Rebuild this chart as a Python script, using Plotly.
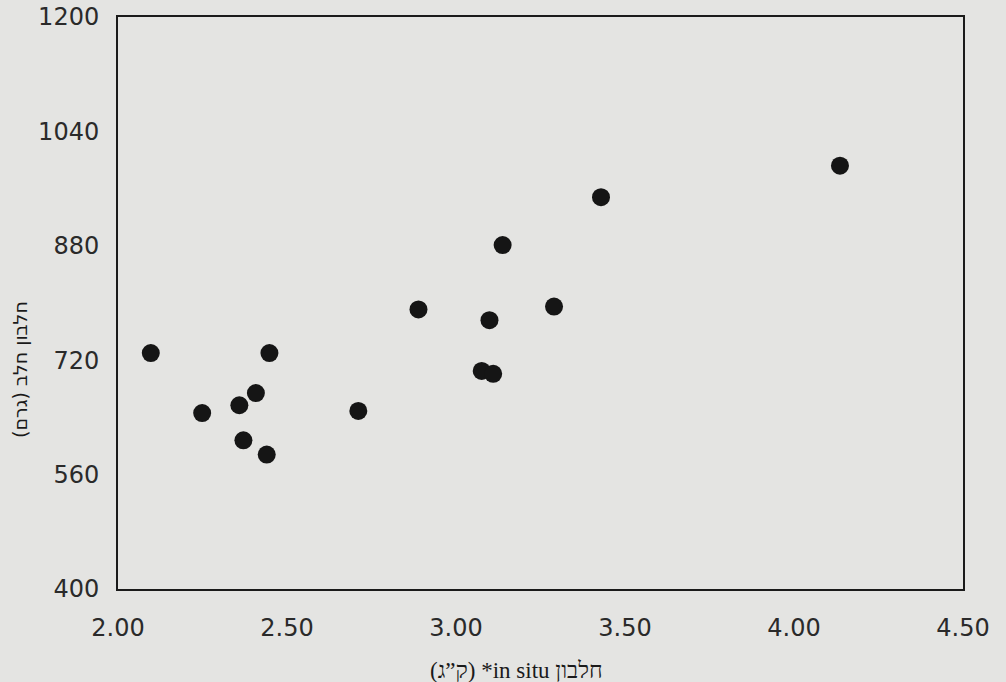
import plotly.graph_objects as go

# Data (x: in situ protein, kg; y: milk protein, g)
in_situ_protein = [2.097, 2.249, 2.359, 2.408, 2.371, 2.440, 2.448, 2.711,
                   2.889, 3.076, 3.110, 3.099, 3.138, 3.290, 3.429, 4.136]
milk_protein = [730, 646, 657, 674, 608, 588, 730, 649,
                791, 705, 701, 776, 881, 795, 948, 992]

x_ticks = [2.00, 2.50, 3.00, 3.50, 4.00, 4.50]
x_tick_labels = ["2.00", "2.50", "3.00", "3.50", "4.00", "4.50"]
y_ticks = [400, 560, 720, 880, 1040, 1200]
y_tick_labels = ["400", "560", "720", "880", "1040", "1200"]

x_title = "\u202bחלבון in situ* (ק\u201dג)\u202c"
y_title = "\u202bחלבון חלב (גרם)\u202c"

bg = "#e4e4e2"

fig = go.Figure()
fig.add_trace(go.Scatter(
    x=in_situ_protein, y=milk_protein, mode="markers",
    marker=dict(size=18, color="#151515", line=dict(width=0)),
    showlegend=False, hoverinfo="skip",
))

tick_font = dict(family="DejaVu Sans", size=24, color="#2a2a2a")

L, R, T, B = 118, 43, 17, 93

fig.update_layout(
    width=1006, height=682,
    margin=dict(l=L, r=R, t=T, b=B),
    paper_bgcolor=bg, plot_bgcolor=bg,
    xaxis=dict(
        range=[2.0, 4.5], tickvals=x_ticks, ticktext=x_tick_labels,
        showgrid=False, zeroline=False, showline=True, mirror=True,
        linecolor="#1a1a1a", linewidth=2, ticks="", tickfont=tick_font,
        ticklabelstandoff=16, automargin=False,
    ),
    yaxis=dict(
        range=[400, 1200], tickvals=y_ticks, ticktext=y_tick_labels,
        showgrid=False, zeroline=False, showline=True, mirror=True,
        linecolor="#1a1a1a", linewidth=2, ticks="", tickfont=tick_font,
        ticklabelstandoff=12, automargin=False,
    ),
    annotations=[
        dict(text=x_title, x=516, y=670, xref="paper", yref="paper",
             showarrow=False, font=dict(family="Liberation Serif, DejaVu Serif", size=23, color="#1a1a1a"),
             xanchor="center", yanchor="middle"),
        dict(text=y_title, x=20, y=370, xref="paper", yref="paper",
             showarrow=False, textangle=-90,
             font=dict(family="DejaVu Sans", size=19, color="#1a1a1a"),
             xanchor="center", yanchor="middle"),
    ],
)

# convert pixel positions of annotations into paper coords
W_plot = 1006 - L - R
H_plot = 682 - T - B
for ann in fig.layout.annotations:
    px, py = ann.x, ann.y
    ann.x = (px - L) / W_plot
    ann.y = 1 - (py - T) / H_plot

fig.write_html(
    "out.html",
    config={"displayModeBar": False},
    post_script="document.body.style.margin='0';document.body.style.background='%s';" % bg,
)
